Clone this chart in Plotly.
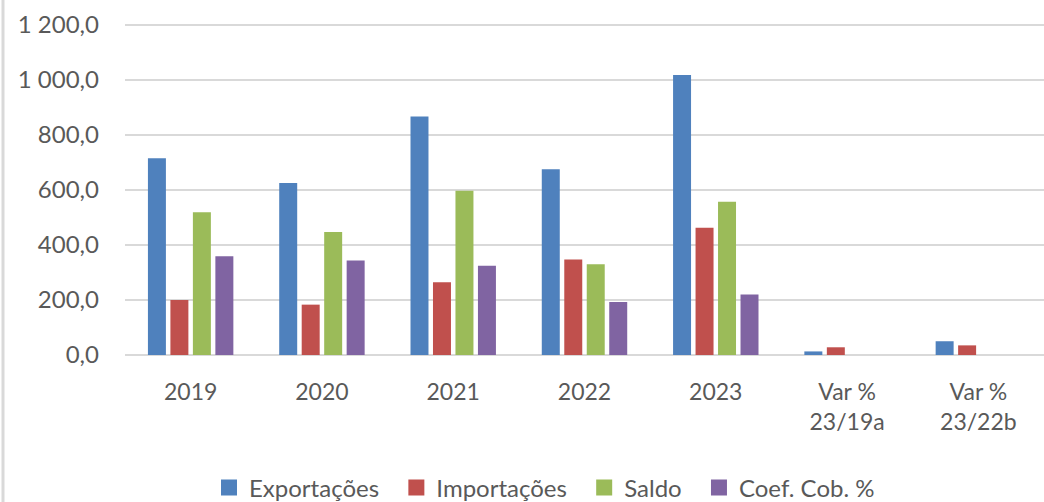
import plotly.graph_objects as go

categories = ["2019", "2020", "2021", "2022", "2023", "Var %<br>23/19a", "Var %<br>23/22b"]
exportacoes = [715, 625, 867, 675, 1017, 13, 50]
importacoes = [200, 183, 264, 347, 462, 28, 35]
saldo = [519, 447, 597, 330, 557, None, None]
coef_cob = [359, 343, 324, 193, 220, None, None]

series_names = ["Exportações", "Importações", "Saldo", "Coef. Cob. %"]
series_values = [exportacoes, importacoes, saldo, coef_cob]
colors = ["#4F81BD", "#C0504D", "#9BBB59", "#8064A2"]

tick_vals = [0, 200, 400, 600, 800, 1000, 1200]
tick_text = ["0,0", "200,0", "400,0", "600,0", "800,0", "1 000,0", "1 200,0"]

FONT = "Lato, 'Noto Sans', sans-serif"
FS = 23
L, T, B = 125, 22, 147
PH = 502 - T - B
PW = 1044 - L

fig = go.Figure()
for name, vals, col in zip(series_names, series_values, colors):
    fig.add_trace(go.Bar(
        x=categories, y=vals, name=name, showlegend=False,
        marker=dict(color=col, line=dict(width=0)),
    ))
# legend entries (square swatches)
for name, col in zip(series_names, colors):
    fig.add_trace(go.Scatter(
        x=[None], y=[None], mode="markers", name=name + "\u00a0\u00a0",
        marker=dict(symbol="square", size=16, color=col, line=dict(width=0)),
        showlegend=True, hoverinfo="skip",
    ))

fig.update_layout(
    width=1044, height=502,
    margin=dict(l=L, r=0, t=T, b=B, autoexpand=False),
    paper_bgcolor="white", plot_bgcolor="white",
    barmode="group", bargap=0.315, bargroupgap=0.2,
    font=dict(family=FONT, size=FS, color="#595959"),
    showlegend=True,
    legend=dict(orientation="h", x=(209 - L) / PW, xanchor="left", y=(355 - 488) / PH, yanchor="middle",
                font=dict(family=FONT, size=24, color="#595959"),
                itemwidth=30, tracegroupgap=0, traceorder="normal"),
    xaxis=dict(type="category", showgrid=False, showline=False, ticks="", automargin=False,
               ticklabelstandoff=21,
               tickfont=dict(family=FONT, size=FS, color="#595959")),
    yaxis=dict(range=[0, 1210], tickvals=tick_vals, ticktext=tick_text, automargin=False,
               showgrid=True, gridcolor="#D9D9D9", gridwidth=2,
               zeroline=True, zerolinecolor="#D9D9D9", zerolinewidth=2,
               ticks="", showline=False, ticklabelstandoff=25,
               tickfont=dict(family=FONT, size=24, color="#595959")),
)

fig.add_shape(type="line", xref="paper", yref="paper",
              x0=(3 - L) / PW, x1=(3 - L) / PW, y0=-B / PH, y1=1 + T / PH,
              line=dict(color="#D9D9D9", width=3))

fig.write_html("out.html", config={"displayModeBar": False},
               post_script="document.body.style.margin='0';document.body.style.overflow='hidden';")
